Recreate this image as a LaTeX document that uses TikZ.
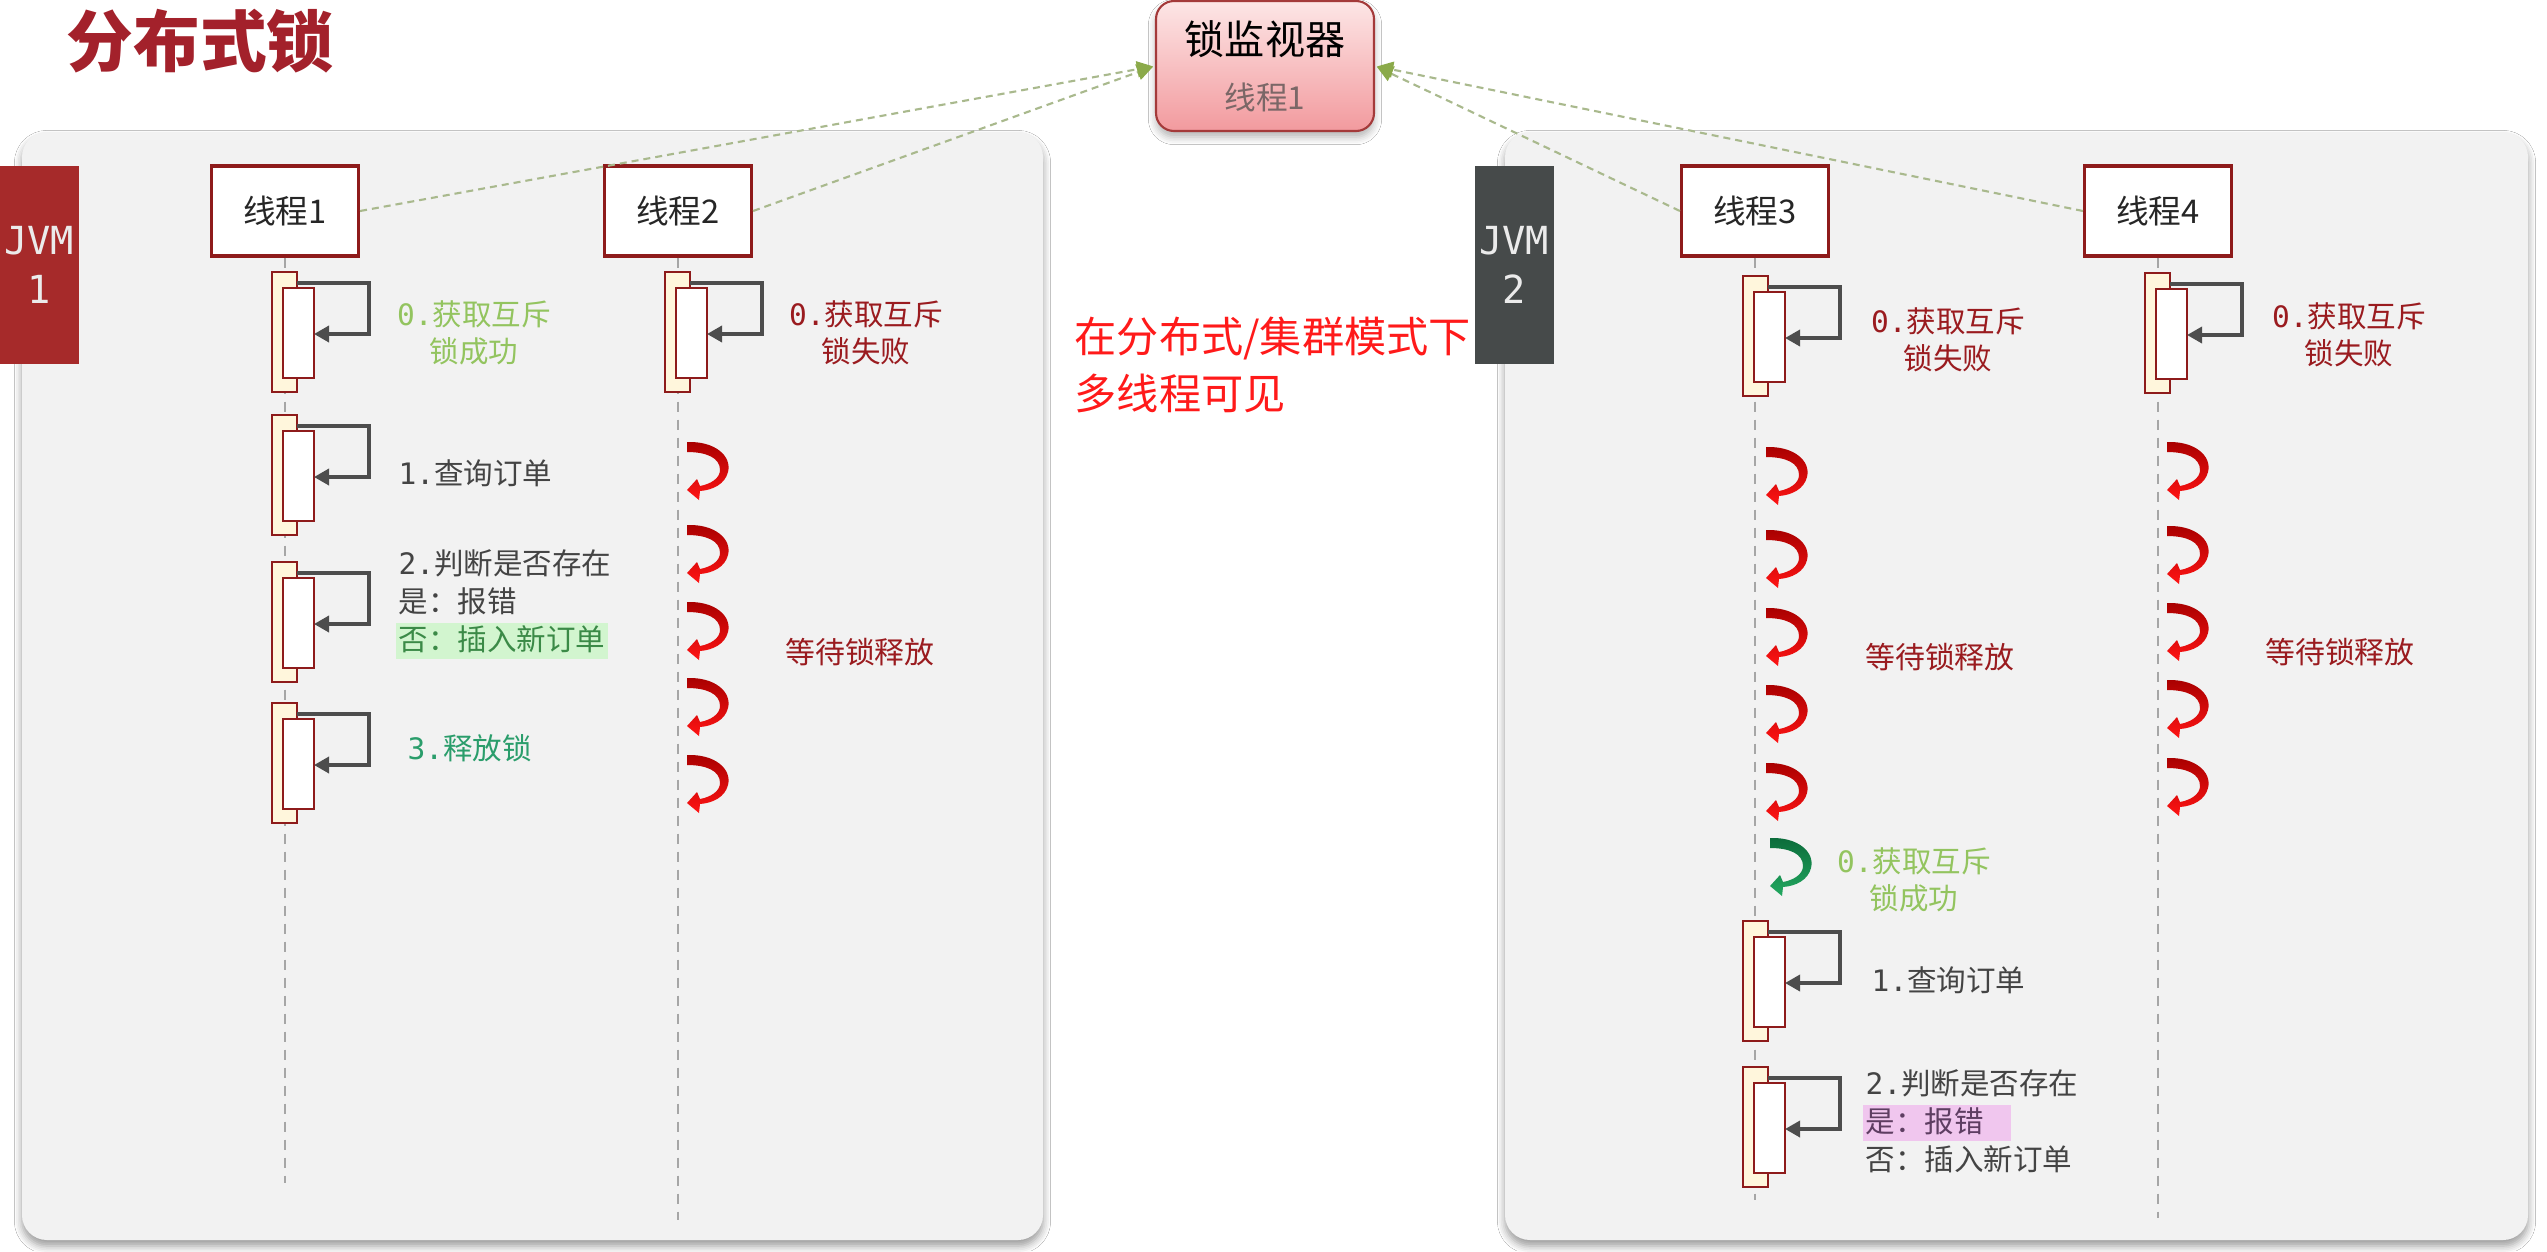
\documentclass[tikz,border=0pt]{standalone}
\usepackage{fontspec}
\setmainfont{Noto Sans CJK SC}
\newfontfamily\monofont{DejaVu Sans Mono}
\usepackage{xcolor}
\definecolor{titleRed}{HTML}{A3212B}
\definecolor{boxRed}{HTML}{8E1B1B}
\definecolor{barCream}{HTML}{FFF6DC}
\definecolor{jvmRed}{HTML}{A62A2A}
\definecolor{jvmGray}{HTML}{464A4A}
\definecolor{panelGray}{HTML}{F2F2F2}
\definecolor{lifeGray}{HTML}{A6A6A6}
\definecolor{callGray}{HTML}{4D4D4D}
\definecolor{linkGreen}{HTML}{A9B98D}
\definecolor{tipGreen}{HTML}{8BAA4A}
\definecolor{monTop}{HTML}{FDE6E6}
\definecolor{monBottom}{HTML}{F29A9E}
\definecolor{monBorder}{HTML}{A43A3A}
\definecolor{monGray}{HTML}{7B6767}
\definecolor{waitRed}{HTML}{9A1B1F}
\definecolor{okGreen}{HTML}{93C45F}
\definecolor{relGreen}{HTML}{2A9D6B}
\definecolor{stepGray}{HTML}{444444}
\definecolor{hlGreen}{HTML}{D2F5CF}
\definecolor{hlGreenText}{HTML}{3B8A47}
\definecolor{hlPink}{HTML}{F0C6EE}
\definecolor{hlPinkText}{HTML}{5E3E62}
\definecolor{noteRed}{HTML}{FF1A1A}
\definecolor{curlDark}{HTML}{A80000}
\definecolor{curlRed}{HTML}{FF1414}
\definecolor{gotDark}{HTML}{0B6B3A}
\definecolor{gotGreen}{HTML}{22A860}
\usepackage{tikz}
\usetikzlibrary{
    arrows.meta,
    shadows.blur,
    positioning
}
\newcommand{\stepno}[1]{{\monofont #1}}
\tikzset{
    % Grey panel behind each JVM
    panel/.style={
        fill=panelGray,
        rounded corners=2.5mm,
        blur shadow={
            shadow xshift=0pt,
            shadow yshift=-0.6mm,
            shadow blur steps=5,
            shadow opacity=40
        },
    },
    % JVM tag on the left of a panel
    jvmtag/.style={
        font=\monofont\fontsize{11}{14}\selectfont,
        align=center,
        text=white!92!black,
        minimum width=7.9mm,
        minimum height=19.8mm,
        inner sep=0pt,
    },
    % Thread header box
    threadbox/.style={
        draw=boxRed,
        line width=0.9pt,
        fill=white,
        minimum width=14.7mm,
        minimum height=9mm,
        font=\fontsize{9.3}{11}\selectfont,
        text=black!85,
    },
    % Lock monitor box
    monbox/.style={
        draw=monBorder,
        line width=0.6pt,
        rounded corners=1.8mm,
        top color=monTop,
        bottom color=monBottom,
        minimum width=21.8mm,
        minimum height=13mm,
        align=center,
        font=\fontsize{11.4}{14}\selectfont,
        blur shadow={
            shadow xshift=0pt,
            shadow yshift=-0.6mm,
            shadow blur steps=5,
            shadow opacity=30
        },
    },
    % Dashed link to the monitor
    monlink/.style={
        draw=linkGreen,
        line width=0.6pt,
        dash pattern=on 0.7mm off 0.5mm,
        -{Triangle[length=1.6mm, width=1.6mm, color=tipGreen]},
        shorten >=0.2mm,
    },
    % Life line under a thread
    lifeline/.style={
        draw=lifeGray,
        line width=0.6pt,
        dash pattern=on 1mm off 0.8mm,
    },
    % Activation bars
    barout/.style={draw=boxRed, line width=0.8pt, fill=barCream},
    barin/.style={draw=boxRed, line width=0.8pt, fill=white},
    % Self call arrow
    callarrow/.style={
        draw=callGray,
        line width=1pt,
        -{Triangle[length=1.5mm, width=1.6mm]},
    },
    % One self call block on a life line
    pics/selfcall/.style={code={
        \draw[barout] (-13,0) rectangle (12,120);
        \draw[barin] (-2,16) rectangle (29,106);
        \draw[callarrow] (12,11) -- (84,11) -- (84,62) -- (29,62);
    }},
    % Curled arrow, thick at its tail
    pics/curl/.style={code={
        \path[#1] (0,0) .. controls (28,-1) and (45,14) .. (41,30)
            .. controls (38,42) and (26,48) .. (13,49)
            -- (12,58) -- (0,48) -- (10,37) -- (13,44)
            .. controls (24,42) and (33,36) .. (33,28)
            .. controls (33,16) and (20,10) .. (0,10) -- cycle;
    }},
    waitcurl/.style={top color=curlDark, bottom color=curlRed},
    gotcurl/.style={top color=gotDark, bottom color=gotGreen},
    % Texts
    steptext/.style={
        font=\fontsize{8.4}{10}\selectfont,
        text=stepGray,
        anchor=west,
        inner xsep=0.3mm,
        inner ysep=0.15mm,
        text height=2.6mm,
        text depth=0.75mm,
    },
    locknote/.style={
        font=\fontsize{8.4}{10.5}\selectfont,
        align=center,
    },
    waitnote/.style={
        font=\fontsize{8.5}{10}\selectfont,
        text=waitRed,
    },
}

\begin{document}
\begin{tikzpicture}[x=0.1mm, y=-0.1mm]
    \useasboundingbox[fill=white] (0,0) rectangle (2547,1251);

    % panels
    \fill[panel] (22,132) rectangle (1043,1240);
    \fill[panel] (1505,132) rectangle (2528,1240);

    \node (title) [font=\bfseries\fontsize{19}{22}\selectfont, text=titleRed] at (200,41) {分布式锁};
    \node (jvm1) [jvmtag, fill=jvmRed] at (39,265) {JVM\\1};
    \node (jvm2) [jvmtag, fill=jvmGray] at (1514,265) {JVM\\2};

    \node (mon) [monbox] at (1265,66) {锁监视器\\[0.6mm]{\fontsize{9}{11}\selectfont\color{monGray}线程1}};

    \node (t1) [threadbox] at (285,211) {线程1};
    \node (t2) [threadbox] at (678,211) {线程2};
    \node (t3) [threadbox] at (1755,211) {线程3};
    \node (t4) [threadbox] at (2158,211) {线程4};

    \coordinate (t1end) at (285,1183);
    \coordinate (t2end) at (678,1220);
    \coordinate (t3end) at (1755,1200);
    \coordinate (t4end) at (2158,1218);
    \draw [lifeline] (t1) -- (t1end);
    \draw [lifeline] (t2) -- (t2end);
    \draw [lifeline] (t3) -- (t3end);
    \draw [lifeline] (t4) -- (t4end);

    \draw [monlink] (t1.east) -- (mon.west);
    \draw [monlink] (t2.east) -- (mon.west);
    \draw [monlink] (t3.west) -- (mon.east);
    \draw [monlink] (t4.west) -- (mon.east);

    % self calls
    \foreach \y in {272,415,562,703}
        \pic at (285,\y) {selfcall};
    \pic at (678,272) {selfcall};
    \foreach \y in {276,921,1067}
        \pic at (1756,\y) {selfcall};
    \pic at (2158,273) {selfcall};

    % waiting for the lock
    \foreach \y in {442,525,602,678,755}
        \pic at (687,\y) {curl=waitcurl};
    \foreach \y in {447,530,608,685,763}
        \pic at (1766,\y) {curl=waitcurl};
    \foreach \y in {442,526,603,680,758}
        \pic at (2167,\y) {curl=waitcurl};
    \pic at (1770,838) {curl=gotcurl};

    \node (n1) [locknote, text=okGreen] at (474,333) {\stepno{0.}获取互斥\\锁成功};
    \node (n2) [locknote, text=waitRed] at (866,333) {\stepno{0.}获取互斥\\锁失败};
    \node (n3) [locknote, text=waitRed] at (1948,340) {\stepno{0.}获取互斥\\锁失败};
    \node (n4) [locknote, text=waitRed] at (2349,335) {\stepno{0.}获取互斥\\锁失败};
    \node (n5) [locknote, text=okGreen] at (1914,880) {\stepno{0.}获取互斥\\锁成功};

    \node (w2) [waitnote] at (860,652) {等待锁释放};
    \node (w3) [waitnote] at (1940,657) {等待锁释放};
    \node (w4) [waitnote] at (2340,652) {等待锁释放};

    % steps of thread 1
    \node (q1) [steptext] at (395,475) {\stepno{1.}查询订单};
    \node (q2a) [steptext] at (395,565) {\stepno{2.}判断是否存在};
    \node (q2b) [steptext, anchor=north west] at (q2a.south west) {是：报错};
    \node (q2c) [steptext, anchor=north west, fill=hlGreen, text=hlGreenText] at (q2b.south west) {否：插入新订单};
    \node (q3) [steptext, text=relGreen] at (404,750) {\stepno{3.}释放锁};

    % steps of thread 3
    \node (r1) [steptext] at (1868,982) {\stepno{1.}查询订单};
    \node (r2a) [steptext] at (1862,1085) {\stepno{2.}判断是否存在};
    \node (r2b) [steptext, anchor=north west, fill=hlPink, text=hlPinkText, text width=14.2mm] at (r2a.south west) {是：报错};
    \node (r2c) [steptext, anchor=north west] at (r2b.south west) {否：插入新订单};

    \node (note) [font=\fontsize{12}{16}\selectfont, text=noteRed, align=left, anchor=west, inner xsep=0pt] at (1074,365) {在分布式/集群模式下\\多线程可见};
\end{tikzpicture}
\end{document}
